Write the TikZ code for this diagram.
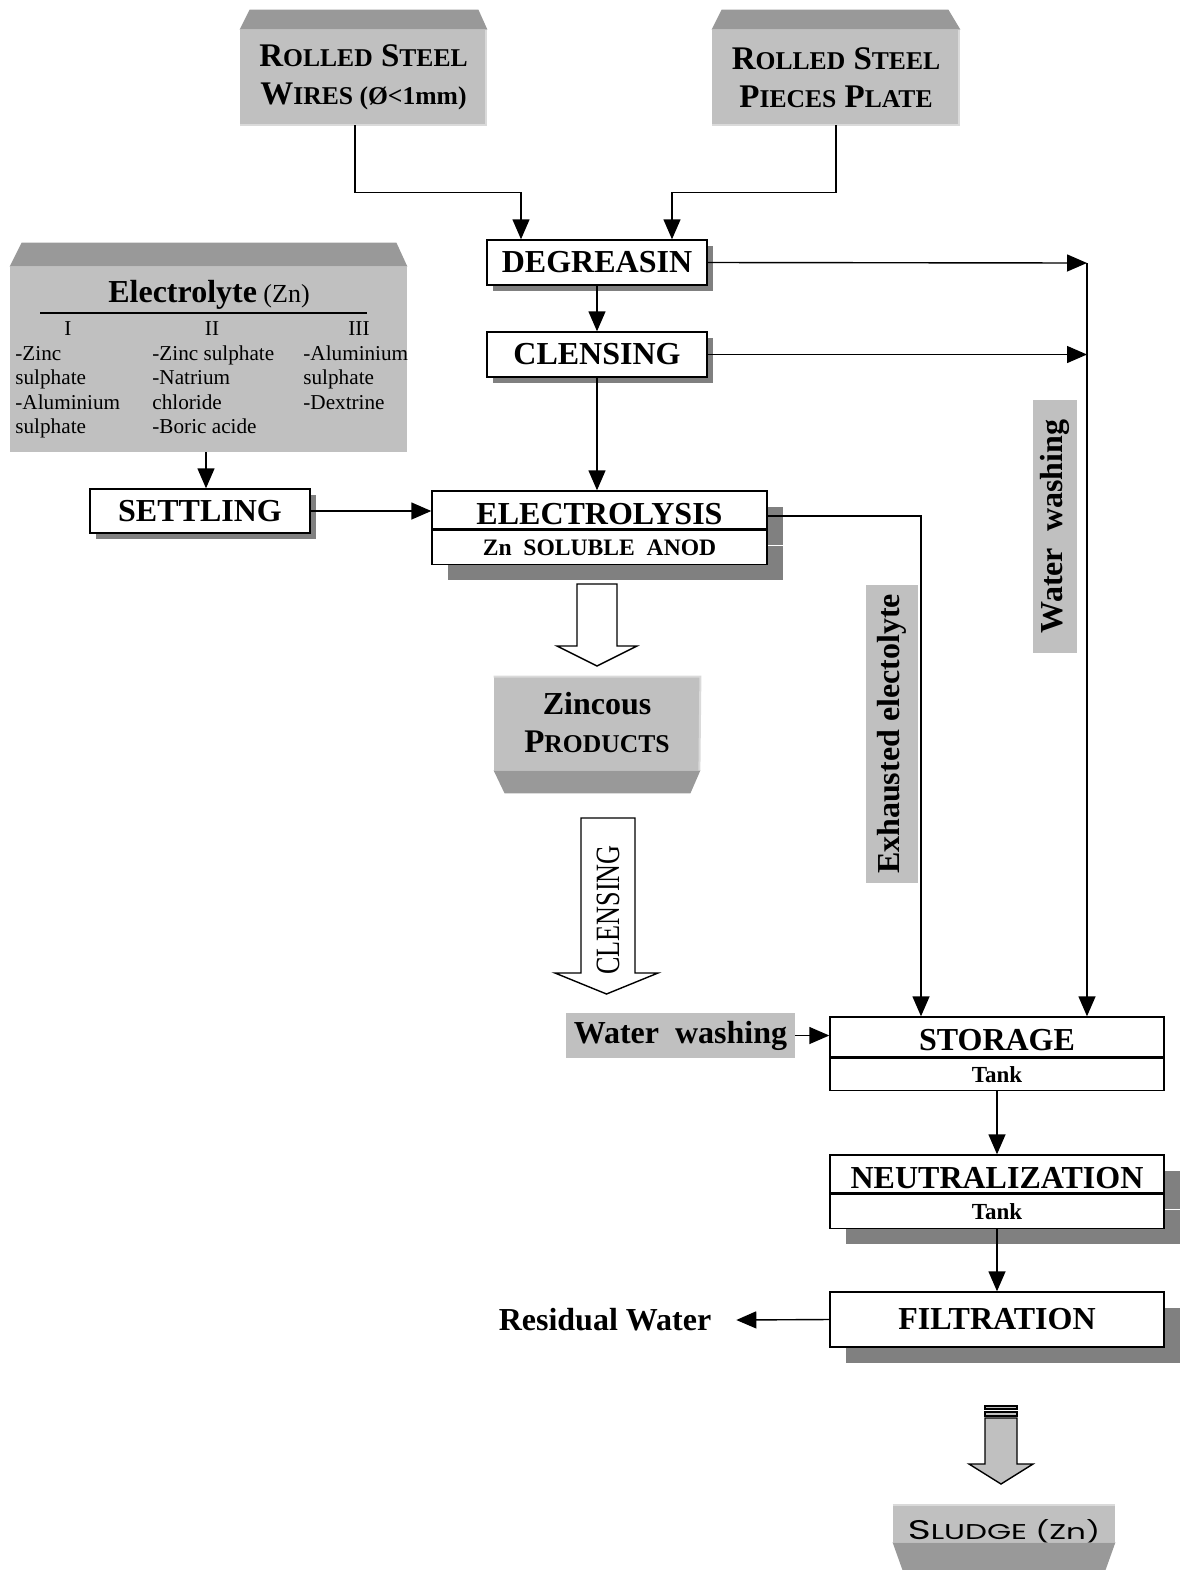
\documentclass[tikz,border=0pt]{standalone}
\usepackage{fontspec}
\usepackage{graphicx}
\setmainfont{Liberation Serif}
\newfontfamily\sludgefont{Poppins}
\usetikzlibrary{arrows.meta,positioning,shadows}
\definecolor{topgray}{HTML}{999999}
\definecolor{boxgray}{HTML}{C0C0C0}
\definecolor{shadegray}{HTML}{808080}
\definecolor{edgegray}{HTML}{DADADA}
\tikzstyle{box}=[draw,fill=white,line width=0.7pt,inner sep=0pt,font=\bfseries\fontsize{16}{18}\selectfont]
\tikzstyle{thinshade}=[drop shadow={shadow xshift=3pt,shadow yshift=-3pt,fill=shadegray,opacity=1}]
\tikzstyle{wideshade}=[drop shadow={shadow xshift=8pt,shadow yshift=-8pt,fill=shadegray,opacity=1}]
\tikzstyle{graybox}=[fill=boxgray,inner sep=0pt]
\tikzstyle{label}=[font=\bfseries\fontsize{16}{18}\selectfont]
\tikzstyle{item}=[inner sep=0pt,font=\fontsize{10.6}{12.25}\selectfont]
\tikzstyle{arr}=[line width=0.7pt,-{Triangle[length=10pt,width=8.5pt]}]
\tikzstyle{hollow}=[draw,line width=0.7pt,fill=white]
\newcommand\bigsc[2]{{\fontsize{16.5}{20}\selectfont#1}{\fontsize{12.8}{20}\selectfont#2}}

\begin{document}
\begin{tikzpicture}[x=0.5pt,y=-0.5pt]
\useasboundingbox (0,0) rectangle (1179,1570);
\node[graybox,minimum width=123.5pt,minimum height=47.5pt,align=center,font=\bfseries\fontsize{16.5}{19}\selectfont] (wires) at (363.5,77.5) {\bigsc{R}{OLLED} \bigsc{S}{TEEL}\\\bigsc{W}{IRES (Ø<1mm)}};
\fill[topgray] (wires.north west) -- ([shift={(10,-20)}]wires.north west) -- ([shift={(-9,-20)}]wires.north east) -- (wires.north east) -- cycle;
\draw[edgegray,line width=1pt] ([xshift=-0.5pt]wires.north east) -- ([xshift=-0.5pt]wires.south east) -- (wires.south west);
\node[graybox,minimum width=124pt,minimum height=47.5pt,align=center,font=\bfseries\fontsize{16.5}{19}\selectfont] (pieces) at (836,77.5) {\bigsc{R}{OLLED} \bigsc{S}{TEEL}\\\bigsc{P}{IECES} \bigsc{P}{LATE}};
\fill[topgray] (pieces.north west) -- ([shift={(10,-20)}]pieces.north west) -- ([shift={(-12,-20)}]pieces.north east) -- (pieces.north east) -- cycle;
\draw[edgegray,line width=1pt] ([xshift=-0.5pt]pieces.north east) -- ([xshift=-0.5pt]pieces.south east) -- (pieces.south west);

\node[box,thinshade,minimum width=110pt,minimum height=22.5pt] (degr) at (597,262.5) {DEGREASIN};
\node[box,thinshade,minimum width=110pt,minimum height=22.5pt] (clens) at (597,354.5) {CLENSING};
\coordinate (wtop) at (1087,263);

\node[graybox,minimum width=198.5pt,minimum height=92.5pt] (electrolyte) at (208.5,359.5) {};
\fill[topgray] (electrolyte.north west) -- ([shift={(12,-24)}]electrolyte.north west) -- ([shift={(-11,-24)}]electrolyte.north east) -- (electrolyte.north east) -- cycle;
\node[anchor=base,font=\fontsize{13}{15}\selectfont] (eltitle) at (209,302) {{\bfseries\fontsize{16}{18}\selectfont Electrolyte} (Zn)};
\draw[line width=0.8pt] (40,313) -- (367,313);
\node[anchor=base,item] (coli) at (68,335) {I};
\node[anchor=base,item] (colii) at (212,335) {II};
\node[anchor=base,item] (coliii) at (359,335) {III};
\node[anchor=base west,align=left,item] (lista) at (15,433.5) {-Zinc\\sulphate\\-Aluminium\\sulphate};
\node[anchor=base west,align=left,item] (listb) at (152,433.5) {-Zinc sulphate\\-Natrium\\chloride\\-Boric acide};
\node[anchor=base west,align=left,item] (listc) at (303,409) {-Aluminium\\sulphate\\-Dextrine};

\node[box,thinshade,minimum width=110pt,minimum height=22pt] (settl) at (200,511) {SETTLING};
\coordinate (settlin) at ([xshift=3pt]settl.north);

\node[box,wideshade,minimum width=167.5pt,minimum height=19pt,text height=15pt] (electop) at (599.5,510) {ELECTROLYSIS};
\node[box,wideshade,minimum width=167.5pt,minimum height=17pt,below=0pt of electop,font=\bfseries\fontsize{11.8}{14}\selectfont] (elecbot) {Zn\ \ SOLUBLE\ \ ANOD};

\draw[hollow] (577,584) -- (617,584) -- (617,646) -- (637,646) -- (597,666) -- (557,646) -- (577,646) -- cycle;
\node[graybox,minimum width=103pt,minimum height=47pt,align=center,font=\bfseries\fontsize{16}{19}\selectfont] (zincous) at (597,723) {Zincous\\\bigsc{P}{RODUCTS}};
\fill[topgray] (zincous.south west) -- ([shift={(11,23)}]zincous.south west) -- ([shift={(-10,23)}]zincous.south east) -- (zincous.south east) -- cycle;
\draw[edgegray,line width=1pt] ([yshift=-0.5pt]zincous.north west) -- ([yshift=-0.5pt]zincous.north east) -- ([xshift=-0.5pt]zincous.south east);

\draw[hollow] (581,818) -- (635,818) -- (635,973) -- (658,973) -- (606.5,994) -- (555,973) -- (581,973) -- cycle;
\node[rotate=90,inner sep=0pt,font=\fontsize{17}{18}\selectfont] (clarrow) at (608,910) {\scalebox{0.77}[1]{CLENSING}};

\node[graybox,rotate=90,minimum width=149pt,minimum height=26pt,label] (exhaust) at (892,734) {Exhausted electolyte};
\node[graybox,rotate=90,minimum width=126.5pt,minimum height=22pt,label] (vwash) at (1055,526.5) {Water\ \ washing};

\node[graybox,minimum width=114.5pt,minimum height=22.5pt,label] (hwash) at (680.5,1035.5) {Water\ \ washing};
\node[box,minimum width=167pt,minimum height=20pt,text height=14pt] (storetop) at (997,1037) {STORAGE};
\node[box,minimum width=167pt,minimum height=16pt,below=0pt of storetop,font=\bfseries\fontsize{11.5}{14}\selectfont] (storebot) {Tank};

\node[box,wideshade,minimum width=167pt,minimum height=19pt,text height=15pt] (neutop) at (997,1174) {NEUTRALIZATION};
\node[box,wideshade,minimum width=167pt,minimum height=17pt,below=0pt of neutop,font=\bfseries\fontsize{11.5}{14}\selectfont] (neubot) {Tank};

\node[box,wideshade,minimum width=167pt,minimum height=27.5pt] (filt) at (997,1319.5) {FILTRATION};
\node[label] (resid) at (605,1320) {Residual Water};

\draw[hollow,fill=boxgray] (985,1418) -- (1017,1418) -- (1017,1464) -- (1033,1464) -- (1001,1484) -- (969,1464) -- (985,1464) -- cycle;
\draw[line width=0.6pt,fill=boxgray] (985,1406) rectangle (1017,1409);
\draw[line width=0.6pt,fill=boxgray] (985,1412) rectangle (1017,1416);
\node[graybox,minimum width=111pt,minimum height=19pt,text height=16.5pt,text depth=0pt] (sludge) at (1004,1523) {\sludgefont\scalebox{1.45}[1]{{\fontsize{13.5}{14}\selectfont S}{\fontsize{10.7}{14}\selectfont LUDGE (Zn)}}};
\fill[topgray] (sludge.south west) -- ([shift={(10,28)}]sludge.south west) -- ([shift={(-10,28)}]sludge.south east) -- (sludge.south east) -- cycle;
\draw[edgegray,line width=1pt] ([yshift=-0.5pt]sludge.north west) -- ([yshift=-0.5pt]sludge.north east);

\draw[arr] ([xshift=-4.25pt]wires.south) -- ++(0,67) -| ([xshift=-38pt]degr.north);
\draw[arr] (pieces.south) -- ++(0,67) -| ([xshift=37.5pt]degr.north);
\draw[arr] (degr) -- (clens);
\draw[arr] (degr.east) -- (wtop);
\draw[arr] (clens.east) -- (clens.east -| wtop);
\draw[arr] (wtop) -- ([xshift=45pt]storetop.north);
\draw[arr] (clens) -- (clens |- electop.north);
\draw[arr] (settlin |- electrolyte.south) -- (settlin);
\draw[arr] (settl.east) -- (settl.east -| electop.west);
\draw[arr] ([yshift=-3pt]electop.east) -| ([xshift=-38pt]storetop.north);
\draw[arr] (hwash.east) -- (hwash.east -| storetop.west);
\draw[arr] (storebot) -- (neutop);
\draw[arr] (neubot) -- (filt);
\draw[arr] (filt.west) -- ([xshift=9pt]resid.east);
\end{tikzpicture}
\end{document}
